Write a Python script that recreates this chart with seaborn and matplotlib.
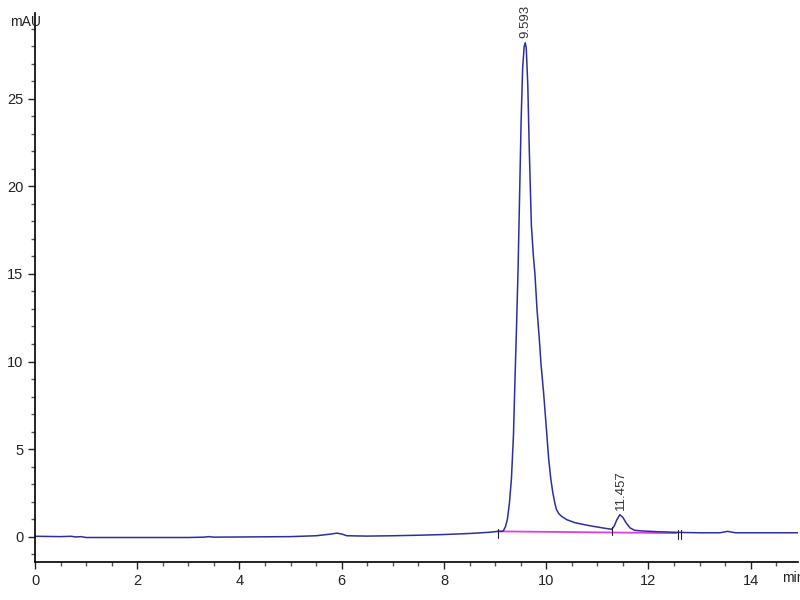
import pandas as pd
import matplotlib.pyplot as plt
import seaborn as sns
from matplotlib.ticker import MultipleLocator

# chromatogram trace (time in min, signal in mAU)
time_min = [0.0, 0.5, 0.7, 0.8, 0.9, 1.0, 2.0, 3.0, 3.3, 3.4, 3.5, 4.0, 5.0, 5.5,
            5.8, 5.9, 6.0, 6.1, 6.5, 7.0, 7.5, 8.0, 8.5, 8.9, 9.05, 9.12, 9.16,
            9.20, 9.24, 9.28, 9.32, 9.36, 9.39, 9.42, 9.45, 9.48, 9.51, 9.54,
            9.57, 9.59, 9.61, 9.64, 9.67, 9.71, 9.75, 9.78, 9.82, 9.86, 9.90,
            9.95, 10.00, 10.05, 10.09, 10.13, 10.17, 10.20, 10.25, 10.30, 10.40,
            10.56, 10.80, 11.10, 11.28, 11.33, 11.38, 11.44, 11.50, 11.56, 11.64,
            11.73, 11.90, 12.20, 12.60, 13.00, 13.40, 13.55, 13.70, 14.00, 14.50, 14.93]
signal_mau = [0.02, 0.0, 0.02, -0.02, 0.0, -0.05, -0.05, -0.05, -0.03, 0.0, -0.03, -0.02, 0.0, 0.05,
              0.15, 0.2, 0.15, 0.05, 0.03, 0.05, 0.08, 0.12, 0.18, 0.25, 0.3, 0.3, 0.32,
              0.55, 0.97, 1.9, 3.3, 5.8, 9.0, 12.0, 15.3, 19.5, 23.8, 26.8,
              28.0, 28.2, 27.9, 25.8, 22.0, 17.8, 16.0, 15.0, 13.0, 11.5, 9.8,
              8.2, 6.3, 4.4, 3.3, 2.5, 1.9, 1.55, 1.3, 1.16, 0.97,
              0.8, 0.65, 0.5, 0.42, 0.6, 0.95, 1.25, 1.1, 0.8, 0.5,
              0.36, 0.32, 0.28, 0.24, 0.22, 0.22, 0.3, 0.22, 0.22, 0.22, 0.22]

# integration baseline
base_time = [9.05, 12.55]
base_mau = [0.3, 0.2]

# peak labels
peak_rt = [9.593, 11.457]
peak_top = [28.2, 1.25]
peak_text = ['9.593', '11.457']

# integration event marks
mark_time = [9.05, 11.28, 12.58, 12.64]
mark_mau = [0.3, 0.42, 0.2, 0.2]

df = pd.DataFrame({'t': time_min, 'mAU': signal_mau})

sns.set_style('white')
plt.rcParams['font.family'] = ['Liberation Sans', 'DejaVu Sans']

fig = plt.figure(figsize=(8, 6), dpi=100)
ax = fig.add_axes([0.04375, 0.0633, 0.954, 0.915])

sns.lineplot(data=df, x='t', y='mAU', sort=False, estimator=None,
             color='#2e2ea0', linewidth=1.1, ax=ax)
ax.plot(base_time, base_mau, color='#e040d8', linewidth=1.3, zorder=1)

for t, v in zip(mark_time, mark_mau):
    ax.plot([t, t], [v - 0.35, v + 0.15], color='#222222', linewidth=0.8)

for t, v, s in zip(peak_rt, peak_top, peak_text):
    ax.text(t, v + 0.25, s, rotation=90, ha='center', va='bottom',
            fontsize=9.5, color='#333333')

ax.set_xlim(0, 14.93)
ax.set_ylim(-1.45, 29.9)
ax.xaxis.set_major_locator(MultipleLocator(2))
ax.xaxis.set_minor_locator(MultipleLocator(0.5))
ax.yaxis.set_major_locator(MultipleLocator(5))
ax.yaxis.set_minor_locator(MultipleLocator(1))
ax.tick_params(which='major', length=5, width=1, labelsize=10.5, colors='#222222', direction='out')
ax.tick_params(which='minor', length=3, width=1, colors='#555555', direction='out')
ax.tick_params(axis='x', bottom=True, which='both')
ax.tick_params(axis='y', left=True, which='both')

for side in ['top', 'right']:
    ax.spines[side].set_visible(False)
for side in ['left', 'bottom']:
    ax.spines[side].set_color('#000000')
    ax.spines[side].set_linewidth(1.2)

ax.set_xlabel('')
ax.set_ylabel('')
fig.text(0.012, 0.963, 'mAU', fontsize=10, color='#222222', ha='left', va='center')
fig.text(0.978, 0.037, 'min', fontsize=10, color='#222222', ha='left', va='center')

plt.savefig('out.png', dpi=100)
